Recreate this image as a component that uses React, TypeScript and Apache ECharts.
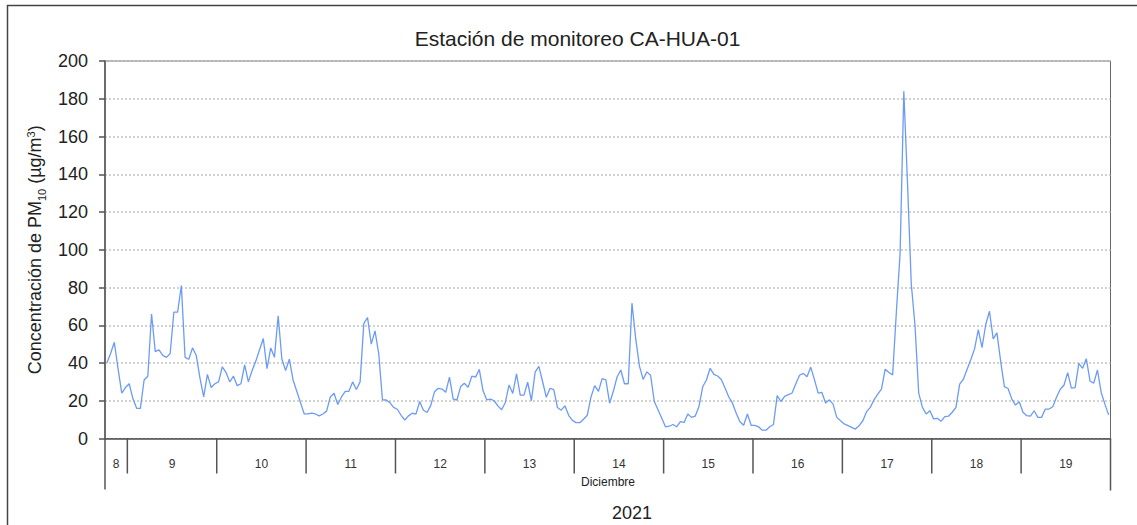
import React, { useEffect, useRef } from "react";
import * as echarts from "echarts";

// Hourly PM10 concentrations (µg/m³), December 2021
const dec08 = [40, 45, 51, 37, 24, 27]; // hours 18–23
const dec09 = [29, 21, 16, 16, 31, 33, 66, 46, 47, 44, 43, 45, 67, 67, 81, 43, 42, 48, 44, 32, 22, 34, 27, 29];
const dec10 = [30, 38, 35, 30, 33, 28, 29, 39, 30, 36, 41, 47, 53, 37, 48, 43, 65, 42, 36, 42, 31, 25, 19, 13];
const dec11 = [13, 13.5, 13, 12, 13, 14.5, 22, 24, 18, 22, 25, 25, 30, 26, 30, 61, 64, 50, 57, 45, 20.5, 20.4, 19, 16.5];
const dec12 = [15.5, 12.3, 9.8, 12, 13.4, 12.9, 19.6, 15, 13.8, 17.7, 24.8, 26.6, 26.2, 24.5, 32.5, 20.9, 20.4, 27.5, 29.3, 27.1, 33, 32.5, 36.6, 25.4];
const dec13 = [20.5, 20.9, 20, 17.3, 15.2, 19.1, 28.4, 23.9, 34.3, 23, 23, 29.8, 20, 35.2, 38.2, 30.2, 21.8, 26.6, 25.9, 16.4, 15, 17.3, 12.3, 9.6];
const dec14 = [8.4, 8.4, 10.2, 12.3, 22, 28, 25, 31.7, 31, 18.7, 25, 32.6, 36.3, 29, 29, 71.7, 53, 38.5, 31.3, 35.3, 33.5, 19.6, 15.2, 10.7];
const dec15 = [6.2, 6.5, 7.4, 6.2, 8.9, 8.5, 13, 11.2, 11.9, 17, 27.4, 31, 37.2, 34, 33.1, 31.3, 26.8, 22, 18.7, 13.4, 8.9, 7, 13, 7];
const dec16 = [7, 6.2, 4.4, 4.4, 6.2, 7.4, 22.7, 19.6, 22.3, 23.2, 24.1, 29, 33.5, 34.5, 32.7, 37.8, 31.2, 24, 24.4, 18.8, 20.5, 18.2, 11.2, 9.4];
const dec17 = [7.7, 6.8, 5.9, 5, 6.8, 9.4, 14.2, 16.5, 20.5, 23.5, 26.2, 36.7, 35, 33.7, 67, 98, 184, 135, 82, 60, 24, 16.5, 13, 14.7];
const dec18 = [10.4, 10.7, 9.1, 11.6, 11.8, 13.9, 16.5, 28.8, 31.4, 36.7, 41.9, 47.5, 57.7, 48.1, 60.4, 67.4, 52.8, 56, 41, 27.5, 26.5, 20.9, 17.7, 19.5];
const dec19 = [13.9, 12.1, 11.8, 14.7, 11.2, 11.2, 15.6, 15.6, 16.8, 21.8, 26.1, 28.2, 34.9, 26.7, 27, 39.8, 37.2, 42.3, 30.5, 29.3, 36.3, 24.4, 18.2, 12.5];

const dayLabels = ["8", "9", "10", "11", "12", "13", "14", "15", "16", "17", "18", "19"];
const dayValues = [dec08, dec09, dec10, dec11, dec12, dec13, dec14, dec15, dec16, dec17, dec18, dec19];
const yTicks = [0, 20, 40, 60, 80, 100, 120, 140, 160, 180, 200];

const TITLE = "Estación de monitoreo CA-HUA-01";
const MONTH = "Diciembre";
const YEAR = "2021";

const FONT = "'Liberation Sans', Arial, sans-serif";

export default function App() {
  const ref = useRef<HTMLDivElement>(null);

  useEffect(() => {
    if (!ref.current) return;
    const chart = echarts.init(ref.current, undefined, { renderer: "svg" });

    // x: hours relative to 9 Dec 00:00; the first day (8 Dec) covers hours 18–23
    const dayStart = (d: number) => (d === 0 ? -6 : (d - 1) * 24);
    const dayEnd = (d: number) => (d === 0 ? 0 : d * 24);

    const points: number[][] = [];
    dayValues.forEach((vals, d) => {
      const s = dayStart(d);
      vals.forEach((v, j) => points.push([s + j + 0.5, v]));
    });

    const dayRanges = dayLabels.map((lab, d) => [dayStart(d), dayEnd(d), lab]);
    const lastIdx = dayLabels.length - 1;

    const option: any = {
      animation: false,
      grid: {
        left: 105,
        right: 26.5,
        top: 61,
        bottom: 86.5,
        show: true,
        borderColor: "#666",
        borderWidth: 1,
        backgroundColor: "transparent",
      },
      xAxis: {
        type: "value",
        min: -6,
        max: 264,
        axisLine: { show: true, onZero: false, lineStyle: { color: "#555", width: 1.5 } },
        axisTick: { show: false },
        axisLabel: { show: false },
        splitLine: { show: false },
      },
      yAxis: {
        type: "value",
        min: yTicks[0],
        max: yTicks[yTicks.length - 1],
        interval: 20,
        axisLine: { show: true, onZero: false, lineStyle: { color: "#555", width: 1.5 } },
        axisTick: { show: true, length: 6, lineStyle: { color: "#555", width: 1.5 } },
        axisLabel: { fontSize: 18, color: "#222", fontFamily: FONT, margin: 17 },
        splitLine: { show: true, lineStyle: { color: "#c4c4c4", type: [2, 2], width: 1.5 } },
        name: "Concentración de PM{sub|10} (µg/m{sup|3})",
        nameLocation: "middle",
        nameRotate: 90,
        nameGap: 52,
        nameTextStyle: {
          fontSize: 18,
          color: "#222",
          fontFamily: FONT,
          rich: {
            sub: { fontSize: 11, color: "#222", fontFamily: FONT, verticalAlign: "bottom", padding: [0, 0, -3, 0] },
            sup: { fontSize: 11, color: "#222", fontFamily: FONT, verticalAlign: "top", padding: [-1, 0, 0, 0] },
          },
        },
      },
      series: [
        {
          type: "line",
          data: points,
          showSymbol: false,
          symbol: "none",
          lineStyle: { color: "#6b9bf5", width: 1.3 },
          z: 3,
        },
        {
          type: "custom",
          data: dayRanges,
          clip: false,
          silent: true,
          encode: { x: [0, 1] },
          renderItem: (params: any, api: any) => {
            const s = api.coord([api.value(0), 0]);
            const e = api.coord([api.value(1), 0]);
            const y0 = s[1];
            const children: any[] = [];
            const isLast = params.dataIndex === lastIdx;
            children.push({
              type: "line",
              shape: { x1: e[0], y1: y0, x2: e[0], y2: y0 + (isLast ? 52 : 35) },
              style: { stroke: "#555", lineWidth: 1.5 },
            });
            if (params.dataIndex === 0) {
              children.push({
                type: "line",
                shape: { x1: s[0], y1: y0, x2: s[0], y2: y0 + 51 },
                style: { stroke: "#555", lineWidth: 1.5 },
              });
            }
            children.push({
              type: "text",
              style: {
                x: (s[0] + e[0]) / 2,
                y: y0 + 25,
                text: String(api.value(2)),
                align: "center",
                verticalAlign: "middle",
                fontSize: 12,
                fontFamily: FONT,
                fill: "#333",
              },
            });
            return { type: "group", children };
          },
          z: 4,
        },
      ],
      graphic: [
        {
          type: "rect",
          shape: { x: 7.5, y: 5.5, width: 1200, height: 600 },
          style: { fill: "none", stroke: "#444", lineWidth: 1.5 },
          silent: true,
          z: -1,
        },
        {
          type: "text",
          x: 577.5,
          y: 38,
          style: {
            text: TITLE,
            fontSize: 21,
            fontFamily: FONT,
            fill: "#222",
            align: "center",
            verticalAlign: "middle",
          },
        },
        {
          type: "text",
          x: 608,
          y: 482,
          style: {
            text: MONTH,
            fontSize: 12,
            fontFamily: FONT,
            fill: "#222",
            align: "center",
            verticalAlign: "middle",
          },
        },
        {
          type: "text",
          x: 632,
          y: 513,
          style: {
            text: YEAR,
            fontSize: 18,
            fontFamily: FONT,
            fill: "#222",
            align: "center",
            verticalAlign: "middle",
          },
        },
      ],
    };

    chart.setOption(option);
    return () => chart.dispose();
  }, []);

  return (
    <div
      ref={ref}
      style={{ position: "fixed", left: 0, top: 0, width: 1137, height: 525, background: "#fff" }}
    />
  );
}
